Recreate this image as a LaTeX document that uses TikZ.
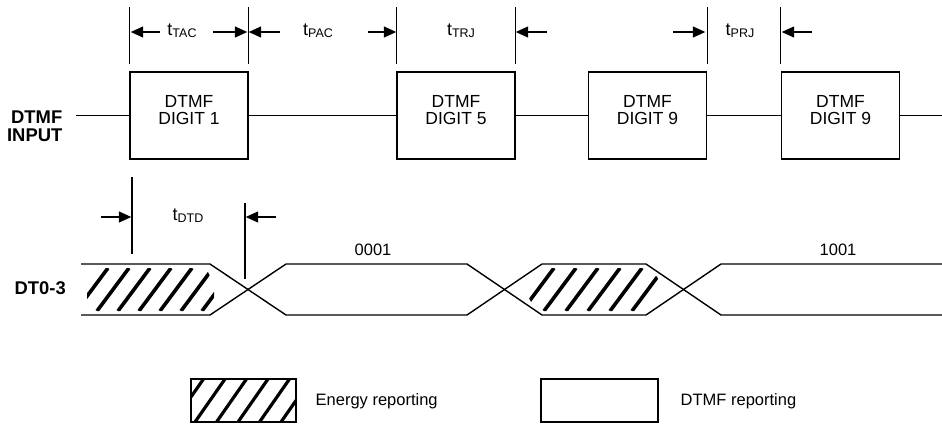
\documentclass[tikz,border=0pt]{standalone}
\usepackage{fontspec}
\setmainfont{Liberation Sans}
\usetikzlibrary{arrows.meta}
\newcommand\tsubl[1]{{\fontsize{18}{18}\selectfont t}\raisebox{-2pt}{\fontsize{12.5}{12.5}\selectfont #1}}
\begin{document}
\begin{tikzpicture}[x=1pt,y=-1pt,line width=1.4pt,
  wire/.style={line width=1.4pt},
  digitbox/.style={draw,line width=1.5pt,minimum width=118pt,minimum height=87pt,inner sep=0pt},
  boxtext/.style={align=center,font=\fontsize{17.5}{17}\selectfont,inner sep=0pt},
  tarr/.style={-{Triangle[length=12.5pt,width=11pt]},line width=1.4pt},
  tick/.style={line width=1.4pt},
  tlabel/.style={inner sep=0pt},
  sig/.style={font=\bfseries\fontsize{18.4}{18}\selectfont,align=right,inner sep=0pt},
  codetext/.style={font=\fontsize{16.5}{16}\selectfont,inner sep=0pt},
  hatch/.style={line width=3.6pt},
  legbox/.style={draw,line width=1.4pt,minimum height=43pt,inner sep=0pt},
  legtext/.style={font=\fontsize{16.5}{16}\selectfont,anchor=west,inner sep=0pt}
]
\useasboundingbox (0,0) rectangle (942,424);

% ---------- DTMF input row ----------
\node[sig,anchor=east] (inlab) at (63,126) {DTMF\\INPUT};
\node[digitbox] (b1) at (189,115.5) {};
\node[digitbox] (b2) at (456,115.5) {};
\node[digitbox] (b3) at (647.5,115.5) {};
\node[digitbox] (b4) at (840.5,115.5) {};
\node[boxtext] (t1) at (189,110.5) {DTMF\\DIGIT 1};
\node[boxtext] (t2) at (456,110.5) {DTMF\\DIGIT 5};
\node[boxtext] (t3) at (647.5,110.5) {DTMF\\DIGIT 9};
\node[boxtext] (t4) at (840.5,110.5) {DTMF\\DIGIT 9};
\coordinate (sin) at (76,115.5);
\coordinate (sout) at (942,115.5);
\draw[wire] (sin) -- (b1.west);
\draw[wire] (b1.east) -- (b2.west);
\draw[wire] (b2.east) -- (b3.west);
\draw[wire] (b3.east) -- (b4.west);
\draw[wire] (b4.east) -- (sout);

% ---------- timing ticks (top) ----------
\coordinate (ytop) at (0,7);
\coordinate (ybot) at (0,64);
\draw[tick] (b1.north west |- ytop) -- (b1.north west |- ybot);
\draw[tick] (b1.north east |- ytop) -- (b1.north east |- ybot);
\draw[tick] (b2.north west |- ytop) -- (b2.north west |- ybot);
\draw[tick] (b2.north east |- ytop) -- (b2.north east |- ybot);
\draw[tick] (b3.north east |- ytop) -- (b3.north east |- ybot);
\draw[tick] (b4.north west |- ytop) -- (b4.north west |- ybot);

% arrows
\coordinate (a1s) at (160,32);  \coordinate (a1e) at (130.7,32);
\coordinate (a2s) at (213,32);  \coordinate (a2e) at (247.3,32);
\coordinate (a3s) at (280,32);  \coordinate (a3e) at (248.7,32);
\coordinate (a4s) at (368,32);  \coordinate (a4e) at (396.3,32);
\coordinate (a5s) at (547,32);  \coordinate (a5e) at (515.7,32);
\coordinate (a6s) at (673,32);  \coordinate (a6e) at (705.3,32);
\coordinate (a7s) at (812,32);  \coordinate (a7e) at (781.7,32);
\draw[tarr] (a1s) -- (a1e);
\draw[tarr] (a2s) -- (a2e);
\draw[tarr] (a3s) -- (a3e);
\draw[tarr] (a4s) -- (a4e);
\draw[tarr] (a5s) -- (a5e);
\draw[tarr] (a6s) -- (a6e);
\draw[tarr] (a7s) -- (a7e);
\node[tlabel] (lTAC) at (182,31) {\tsubl{TAC}};
\node[tlabel] (lPAC) at (318,31) {\tsubl{PAC}};
\node[tlabel] (lTRJ) at (461,31) {\tsubl{TRJ}};
\node[tlabel] (lPRJ) at (740,31) {\tsubl{PRJ}};

% ---------- tDTD ----------
\coordinate (d1t) at (132,177); \coordinate (d1b) at (132,254);
\coordinate (d2t) at (245,203); \coordinate (d2b) at (245,279);
\draw[tick] (d1t) -- (d1b);
\draw[tick] (d2t) -- (d2b);
\coordinate (d1s) at (101,217); \coordinate (d1e) at (131.3,217);
\coordinate (d2s) at (276,217); \coordinate (d2e) at (245.7,217);
\draw[tarr] (d1s) -- (d1e);
\draw[tarr] (d2s) -- (d2e);
\node[tlabel] (lDTD) at (188,216) {\tsubl{DTD}};

% ---------- DT0-3 bus ----------
\node[sig,anchor=west] (dtlab) at (14,288) {DT0-3};
\begin{scope}
  \clip (87,268) -- (206,268) -- (214,284) -- (214,311) -- (87,311) -- cycle;
  \foreach \x in {76,97,...,210} \draw[hatch] (\x,311) -- ++(32,-43);
\end{scope}
\begin{scope}
  \clip (524,289) -- (538,268) -- (650,268) -- (664,286) -- (650,311) -- (536,311) -- cycle;
  \foreach \x in {500,522,...,660} \draw[hatch] (\x,311) -- ++(32,-43);
\end{scope}
\draw[wire] (81,264) -- (210,264) -- (286,315) -- (467,315) -- (542,264) -- (646,264) -- (721,315) -- (942,315);
\draw[wire] (81,315) -- (210,315) -- (286,264) -- (467,264) -- (542,315) -- (646,315) -- (721,264) -- (942,264);
\node[codetext] (c1) at (373,250) {0001};
\node[codetext] (c2) at (838,250) {1001};

% ---------- legend ----------
\node[legbox,minimum width=105pt] (lh) at (243.5,400.5) {};
\begin{scope}
  \clip (lh.south west) rectangle (lh.north east);
  \foreach \x in {152,173.5,...,300} \draw[hatch,line width=3.2pt] (\x,422) -- ++(30,-43);
\end{scope}
\node[legbox,minimum width=105pt] (lh2) at (243.5,400.5) {};
\node[legtext] (le) at (315,401) {Energy reporting};
\node[legbox,minimum width=117pt] (ld) at (599.5,400.5) {};
\node[legtext] (lde) at (680,401) {DTMF reporting};
\end{tikzpicture}
\end{document}
